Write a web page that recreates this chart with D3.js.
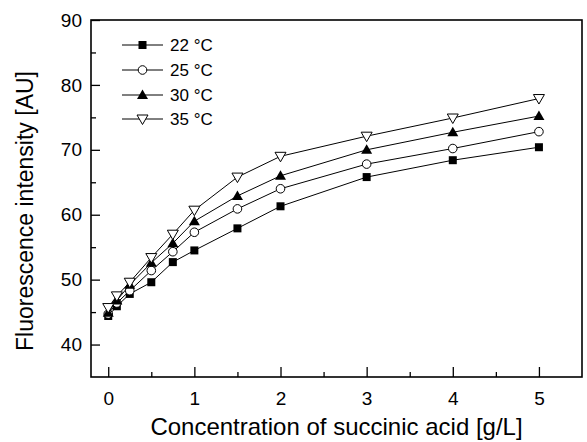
<!DOCTYPE html>
<html><head><meta charset="utf-8">
<script src="https://cdn.jsdelivr.net/npm/d3@7"></script>
<style>body{margin:0;background:#fff}svg{display:block}text{font-family:"Liberation Sans",Arial,sans-serif;fill:#000}</style>
</head><body>
<svg id="c" width="587" height="442"></svg>
<script>
const concentration = [0, 0.1, 0.25, 0.5, 0.75, 1, 1.5, 2, 3, 4, 5];
const s22 = [44.4, 45.9, 47.8, 49.6, 52.7, 54.5, 57.9, 61.3, 65.8, 68.4, 70.4];
const s25 = [44.7, 46.4, 48.3, 51.4, 54.3, 57.3, 60.9, 64.0, 67.8, 70.2, 72.8];
const s30 = [44.9, 46.8, 49.2, 52.6, 55.6, 59.0, 62.9, 66.0, 70.0, 72.7, 75.2];
const s35 = [45.7, 47.5, 49.6, 53.4, 57.0, 60.7, 65.8, 69.0, 72.1, 74.9, 77.9];
const seriesNames = ["22 °C", "25 °C", "30 °C", "35 °C"];
const xTicks = [0, 1, 2, 3, 4, 5];
const xMinorTicks = [0.5, 1.5, 2.5, 3.5, 4.5];
const yTicks = [40, 50, 60, 70, 80, 90];
const yMinorTicks = [45, 55, 65, 75, 85];

const series = [
  {name: seriesNames[0], vals: s22, sym: "square"},
  {name: seriesNames[1], vals: s25, sym: "circle"},
  {name: seriesNames[2], vals: s30, sym: "triUp"},
  {name: seriesNames[3], vals: s35, sym: "triDown"}
];

const svg = d3.select("#c");
const L = 91, R = 582, T = 20, B = 377;
const x = d3.scaleLinear().domain([-0.2, 5.5]).range([L, R]);
const y = d3.scaleLinear().domain([35, 90]).range([B, T]);

svg.append("rect").attr("x", L).attr("y", T).attr("width", R - L).attr("height", B - T)
  .attr("fill", "none").attr("stroke", "#000").attr("stroke-width", 1.6);

const gx = svg.append("g").attr("transform", `translate(0,${B})`)
  .call(d3.axisBottom(x).tickValues(xTicks).tickSize(-10).tickPadding(15).tickFormat(d3.format("d")));
gx.select(".domain").remove();
gx.selectAll("line").attr("stroke-width", 1.3);
gx.selectAll("text").style("font-size", "19px").style("font-family", "Liberation Sans, Arial, sans-serif");
svg.append("g").attr("transform", `translate(0,${B})`)
  .call(d3.axisBottom(x).tickValues(xMinorTicks).tickSize(-5).tickFormat(""))
  .call(g => g.select(".domain").remove()).selectAll("line").attr("stroke-width", 1.3);

const gy = svg.append("g").attr("transform", `translate(${L},0)`)
  .call(d3.axisLeft(y).tickValues(yTicks).tickSize(-9).tickPadding(9));
gy.select(".domain").remove();
gy.selectAll("line").attr("stroke-width", 1.3);
gy.selectAll("text").style("font-size", "19px").style("font-family", "Liberation Sans, Arial, sans-serif");
svg.append("g").attr("transform", `translate(${L},0)`)
  .call(d3.axisLeft(y).tickValues(yMinorTicks).tickSize(-5).tickFormat(""))
  .call(g => g.select(".domain").remove()).selectAll("line").attr("stroke-width", 1.3);

svg.append("text").attr("x", (L + R) / 2).attr("y", 435).attr("text-anchor", "middle")
  .style("font-size", "24px").text("Concentration of succinic acid [g/L]");
svg.append("text").attr("transform", `translate(33,211) rotate(-90)`)
  .attr("text-anchor", "middle").style("font-size", "23px").text("Fluorescence intensity [AU]");

function marker(g, sym, cx, cy) {
  if (sym === "square") {
    g.append("rect").attr("x", cx - 4).attr("y", cy - 4).attr("width", 8).attr("height", 8).attr("fill", "#000");
  } else if (sym === "circle") {
    g.append("circle").attr("cx", cx).attr("cy", cy).attr("r", 4.3).attr("fill", "#fff").attr("stroke", "#000").attr("stroke-width", 1);
  } else if (sym === "triUp") {
    g.append("path").attr("d", `M${cx},${cy - 5.5}L${cx + 5.5},${cy + 4}L${cx - 5.5},${cy + 4}Z`).attr("fill", "#000");
  } else {
    g.append("path").attr("d", `M${cx - 5.5},${cy - 4}L${cx + 5.5},${cy - 4}L${cx},${cy + 5.5}Z`)
      .attr("fill", "#fff").attr("stroke", "#000").attr("stroke-width", 1);
  }
}

const line = d3.line().x(d => x(d[0])).y(d => y(d[1]));
series.forEach(s => {
  const pts = concentration.map((c, i) => [c, s.vals[i]]);
  svg.append("path").attr("d", line(pts)).attr("fill", "none").attr("stroke", "#000").attr("stroke-width", 1);
});
series.forEach(s => {
  const g = svg.append("g");
  concentration.forEach((c, i) => marker(g, s.sym, x(c), y(s.vals[i])));
});

const legY = [45, 70, 95, 119];
series.forEach((s, i) => {
  const g = svg.append("g");
  g.append("line").attr("x1", 122).attr("x2", 163).attr("y1", legY[i]).attr("y2", legY[i]).attr("stroke", "#000").attr("stroke-width", 1);
  marker(g, s.sym, 142.5, legY[i]);
  g.append("text").attr("x", 170).attr("y", legY[i] + 6).style("font-size", "17px").text(s.name);
});
</script>
</body></html>
